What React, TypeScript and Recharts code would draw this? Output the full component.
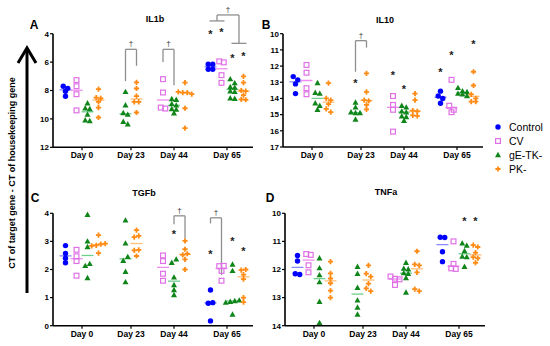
import React from 'react';
import { ScatterChart, Scatter, XAxis, YAxis, ReferenceLine, ReferenceDot } from 'recharts';

// ---------- data ----------
const DAYS = ['Day 0', 'Day 23', 'Day 44', 'Day 65'];
const SERIES = ['Control', 'CV', 'gE-TK-', 'PK-'];

// Panel A – IL1b (one list per day)
const il1bControl = [[7.7, 7.85, 8.05, 8.4], [], [], [6.15, 6.15, 6.5, 6.5]];
const il1bCV = [[7.27, 7.7, 8.26, 9.4], [], [7.2, 8.14, 9.2, 9.27], [5.95, 6.02, 6.92, 7.46]];
const il1bGE = [[8.9, 9.25, 9.3, 9.7, 10.1, 10.15], [8.1, 9.04, 9.58, 9.7, 10.2, 10.38], [8.6, 8.65, 8.95, 9.05, 9.3, 9.35, 9.6], [7.2, 7.48, 7.75, 7.8, 8.05, 8.1, 8.55, 8.58]];
const il1bPK = [[7.9, 8.5, 8.55, 8.8, 9.2, 9.9], [7.43, 7.86, 8.4, 8.8, 8.8, 9.55], [7.45, 8.1, 8.15, 8.15, 8.25, 9.25, 10.65], [7.0, 7.45, 8.0, 8.05, 8.32, 8.62, 8.65]];
const il1bTicks = [4, 6, 8, 10, 12];
const il1bBrackets = [
  { day: 1, left: [2, 2], right: [3, 3], top: 5.1, leftEnd: 7.34, rightEnd: 6.26 },
  { day: 2, left: [1, 1], right: [2, 2], top: 5.1, leftEnd: 6.0, rightEnd: 7.63 },
  { day: 3, left: [0, 1], right: [2, 3], top: 2.68, leftEnd: 3.1, rightEnd: 4.68 },
];
const il1bStars = [
  { day: 3, series: 0, value: 3.85 }, { day: 3, series: 1, value: 3.75 },
  { day: 3, series: 2, value: 5.6 }, { day: 3, series: 3, value: 5.45 },
];

// Panel B – IL10
const il10Control = [[12.65, 12.85, 13.1, 13.7], [], [], [13.55, 13.85, 14.0, 14.3]];
const il10CV = [[11.93, 12.41, 13.37, 13.74], [], [13.85, 14.4, 14.7, 16.05], [12.85, 14.45, 14.7, 14.85]];
const il10GE = [[13.05, 13.65, 13.7, 14.3, 14.45, 14.7], [14.25, 14.55, 14.85, 14.9, 14.9, 15.3], [14.45, 14.55, 14.8, 14.85, 15.1, 15.15, 15.38], [13.35, 13.55, 13.6, 13.7, 13.75, 13.85]];
const il10PK = [[13.05, 14.0, 14.1, 14.35, 14.65, 14.85], [12.45, 13.6, 14.1, 14.15, 14.4, 14.68], [13.7, 14.1, 14.75, 14.8, 15.04, 15.08], [12.35, 13.2, 13.75, 14.0, 14.2, 14.2]];
const il10Ticks = [10, 11, 12, 13, 14, 15, 16, 17];
const il10Brackets = [{ day: 1, left: [2, 2], right: [3, 3], top: 10.43, leftEnd: 12.35, rightEnd: 10.86 }];
const il10Stars = [
  { day: 1, series: 2, value: 12.92 }, { day: 2, series: 1, value: 12.41 }, { day: 2, series: 2, value: 13.31 },
  { day: 3, series: 0, value: 12.24 }, { day: 3, series: 1, value: 11.17 }, { day: 3, series: 3, value: 10.53 },
];

// Panel C – TGFb
const tgfControl = [[2.24, 2.4, 2.57, 2.85], [], [], [0.17, 0.8, 0.82, 1.27]];
const tgfCV = [[1.78, 2.3, 2.47, 2.7], [], [1.6, 1.85, 2.3, 2.5], [1.6, 1.95, 2.12, 2.13]];
const tgfGE = [[1.7, 2.13, 2.2, 2.8, 3.0, 3.95], [1.55, 1.92, 2.31, 2.45, 2.93, 3.75], [1.09, 1.27, 1.45, 1.72, 2.24, 2.36], [0.4, 0.82, 0.85, 0.88, 0.9, 1.95, 2.18]];
const tgfPK = [[2.58, 2.84, 2.86, 2.9, 2.92, 3.22], [2.48, 2.68, 2.7, 3.15, 3.2, 3.4], [2.0, 2.36, 2.52, 2.56, 2.72, 3.02], [0.84, 1.0, 1.66, 1.82, 1.98, 2.0]];
const tgfTicks = [0, 1, 2, 3, 4];
const tgfBrackets = [
  { day: 2, left: [2, 2], right: [3, 3], top: 3.91, leftEnd: 3.61, rightEnd: 3.11 },
  { day: 3, left: [0, 0], right: [1, 1], top: 3.84, leftEnd: 3.64, rightEnd: 1.8 },
];
const tgfStars = [
  { day: 2, series: 2, value: 3.35 }, { day: 3, series: 0, value: 2.63 },
  { day: 3, series: 2, value: 3.07 }, { day: 3, series: 3, value: 2.72 },
];

// Panel D – TNFa
const tnfControl = [[11.5, 11.7, 12.15, 12.18], [], [], [10.85, 10.86, 11.37, 11.72]];
const tnfCV = [[11.45, 11.48, 11.85, 12.1], [], [12.25, 12.33, 12.35, 12.55], [11.0, 11.8, 11.96, 11.98]];
const tnfGE = [[11.6, 11.95, 12.2, 12.45, 13.15, 13.9], [11.9, 12.15, 12.65, 13.1, 13.35, 13.6], [11.76, 11.97, 11.99, 12.13, 12.15, 12.3, 12.82], [11.07, 11.15, 11.34, 11.54, 11.56, 11.9]];
const tnfPK = [[11.72, 12.14, 12.32, 12.49, 12.75, 13.0], [11.85, 12.15, 12.25, 12.5, 12.67, 12.77], [11.35, 11.82, 11.85, 12.1, 12.7, 12.77], [11.13, 11.2, 11.4, 11.56, 11.6, 11.76]];
const tnfTicks = [10, 11, 12, 13, 14];
const tnfBrackets: any[] = [];
const tnfStars = [{ day: 3, series: 2, value: 10.2 }, { day: 3, series: 3, value: 10.2 }];

// ---------- style / layout ----------
const FONT = "'Liberation Sans', Arial, Helvetica, sans-serif";
const COLORS = ['#0000ff', '#e070e6', '#10851a', '#ff8a14'];
const MEDIAN_COLORS = ['#8a8aff', '#f08cf0', '#6fcf8f', '#ffbe7a'];
const TICK_POS = [29, 78, 121, 174];
const PLOT_W = 200;
const COL_GAP = 11;
const ROW_GAP = 4.5;
const ROW_THRESH = 4.2;
const W = 550;
const H = 346;
const Y_AXIS_W = 30;
const X_AXIS_H = 20;

function median(a: number[]) {
  const s = [...a].sort((p, q) => p - q);
  const m = Math.floor(s.length / 2);
  return s.length % 2 ? s[m] : (s[m - 1] + s[m]) / 2;
}

function presentSeries(values: number[][][], day: number) {
  return [0, 1, 2, 3].filter((s) => values[s][day].length > 0);
}

function colX(values: number[][][], day: number, s: number) {
  const pres = presentSeries(values, day);
  const k = pres.indexOf(s);
  return TICK_POS[day] + (k - (pres.length - 1) / 2) * COL_GAP;
}

function buildPanel(values: number[][][], ppu: number) {
  const points: { x: number; y: number }[][] = [[], [], [], []];
  const medians: { x: number; y: number }[][] = [[], [], [], []];
  for (let day = 0; day < DAYS.length; day++) {
    for (const s of presentSeries(values, day)) {
      const cx = colX(values, day, s);
      const sorted = [...values[s][day]].sort((p, q) => p - q);
      const rows: number[][] = [];
      for (const v of sorted) {
        const r = rows[rows.length - 1];
        if (!r || (v - r[0]) * ppu >= ROW_THRESH) rows.push([v]);
        else r.push(v);
      }
      for (const r of rows) {
        r.forEach((v, k) => points[s].push({ x: cx + (k - (r.length - 1) / 2) * ROW_GAP, y: v }));
      }
      medians[s].push({ x: cx, y: median(values[s][day]) });
    }
  }
  return { points, medians };
}

const shapes = [
  (p: any) => <circle cx={p.cx} cy={p.cy} r={2.7} fill={COLORS[0]} />,
  (p: any) => <rect x={p.cx - 2.4} y={p.cy - 2.4} width={4.8} height={4.8} fill="none" stroke={COLORS[1]} strokeWidth={1.2} />,
  (p: any) => <path d={`M${p.cx},${p.cy - 3.2}L${p.cx + 3},${p.cy + 2.2}L${p.cx - 3},${p.cy + 2.2}Z`} fill={COLORS[2]} />,
  (p: any) => (
    <path
      d={`M${p.cx - 0.9},${p.cy - 2.6}h1.8v1.7h1.7v1.8h-1.7v1.7h-1.8v-1.7h-1.7v-1.8h1.7z`}
      fill={COLORS[3]}
    />
  ),
];

const medianShape = (color: string) => (p: any) => (
  <line x1={p.cx - 6} x2={p.cx + 6} y1={p.cy} y2={p.cy} stroke={color} strokeWidth={1.3} />
);

const starShape = (p: any) => (
  <text x={p.cx} y={p.cy + 6} textAnchor="middle" fontSize={11} fontWeight="bold" fill="#222" fontFamily={FONT}>*</text>
);
const daggerShape = (p: any) => (
  <text x={p.cx} y={p.cy - 3} textAnchor="middle" fontSize={8} fill="#333" fontFamily={FONT}>†</text>
);

const BRACKET = '#8f8f8f';

function Panel(props: any) {
  const { values, domain, ticks, reversed, left, top, bottom, brackets, stars } = props;
  const ppu = (bottom - top) / (domain[1] - domain[0]);
  const { points, medians } = buildPanel(values, ppu);
  const margin = {
    left: left - Y_AXIS_W,
    top,
    right: W - left - PLOT_W,
    bottom: H - bottom - X_AXIS_H,
  };
  const refs: any[] = [];
  brackets.forEach((b: any, i: number) => {
    const l0 = colX(values, b.day, b.left[0]);
    const l1 = colX(values, b.day, b.left[1]);
    const r0 = colX(values, b.day, b.right[0]);
    const r1 = colX(values, b.day, b.right[1]);
    const lx = b.left[0] === b.left[1] ? l0 : (l0 - 1 + l1 + 3) / 2;
    const rx = b.right[0] === b.right[1] ? r0 : (r0 - 1 + r1 + 3) / 2;
    const seg = (k: string, a: any, c: any) => (
      <ReferenceLine key={`b${i}${k}`} segment={[a, c]} stroke={BRACKET} strokeWidth={1.3} ifOverflow="visible" />
    );
    refs.push(seg('t', { x: lx, y: b.top }, { x: rx, y: b.top }));
    refs.push(seg('l', { x: lx, y: b.top }, { x: lx, y: b.leftEnd }));
    refs.push(seg('r', { x: rx, y: b.top }, { x: rx, y: b.rightEnd }));
    if (b.left[0] !== b.left[1]) refs.push(seg('lb', { x: l0 - 1, y: b.leftEnd }, { x: l1 + 3, y: b.leftEnd }));
    if (b.right[0] !== b.right[1]) refs.push(seg('rb', { x: r0 - 1, y: b.rightEnd }, { x: r1 + 3, y: b.rightEnd }));
    refs.push(
      <ReferenceDot key={`d${i}`} x={(lx + rx) / 2} y={b.top} ifOverflow="visible" shape={daggerShape} />
    );
  });
  stars.forEach((s: any, i: number) => {
    refs.push(
      <ReferenceDot key={`s${i}`} x={colX(values, s.day, s.series)} y={s.value} ifOverflow="visible" shape={starShape} />
    );
  });
  const tickStyle = { fill: '#000', fontSize: 8, fontWeight: 'bold', fontFamily: FONT } as any;
  return (
    <div style={{ position: 'absolute', left: 0, top: 0, width: W, height: H }}>
      <ScatterChart width={W} height={H} margin={margin}>
        <XAxis
          type="number"
          dataKey="x"
          domain={[0, PLOT_W]}
          ticks={TICK_POS}
          interval={0}
          tickFormatter={(v: number) => DAYS[TICK_POS.indexOf(v)] ?? ''}
          height={X_AXIS_H}
          tickSize={3}
          tickMargin={2}
          axisLine={{ stroke: '#000', strokeWidth: 1.6 }}
          tickLine={{ stroke: '#000', strokeWidth: 1.2 }}
          tick={{ ...tickStyle, fontSize: 8.5 }}
          allowDataOverflow
        />
        <YAxis
          type="number"
          dataKey="y"
          domain={domain}
          ticks={ticks}
          interval={0}
          reversed={reversed}
          width={Y_AXIS_W}
          tickSize={3}
          tickMargin={1}
          axisLine={{ stroke: '#000', strokeWidth: 1.6 }}
          tickLine={{ stroke: '#000', strokeWidth: 1.2 }}
          tick={tickStyle}
        />
        {refs}
        {[0, 1, 2, 3].map((s) => (
          <Scatter
            key={`m${s}`}
            name={`${SERIES[s]} median`}
            data={medians[s]}
            shape={medianShape(MEDIAN_COLORS[s])}
            isAnimationActive={false}
          />
        ))}
        {[0, 1, 2, 3].map((s) => (
          <Scatter key={`p${s}`} name={SERIES[s]} data={points[s]} shape={shapes[s]} isAnimationActive={false} />
        ))}
      </ScatterChart>
    </div>
  );
}

const PANELS = [
  { id: 'A', title: 'IL1b', values: [il1bControl, il1bCV, il1bGE, il1bPK], domain: [4, 12], ticks: il1bTicks, reversed: true, left: 53, top: 33.7, bottom: 147.3, brackets: il1bBrackets, stars: il1bStars },
  { id: 'B', title: 'IL10', values: [il10Control, il10CV, il10GE, il10PK], domain: [10, 17], ticks: il10Ticks, reversed: true, left: 283, top: 33.7, bottom: 147, brackets: il10Brackets, stars: il10Stars },
  { id: 'C', title: 'TGFb', values: [tgfControl, tgfCV, tgfGE, tgfPK], domain: [0, 4], ticks: tgfTicks, reversed: false, left: 53, top: 213.3, bottom: 325.7, brackets: tgfBrackets, stars: tgfStars },
  { id: 'D', title: 'TNFa', values: [tnfControl, tnfCV, tnfGE, tnfPK], domain: [10, 14], ticks: tnfTicks, reversed: true, left: 285, top: 213.3, bottom: 325.7, brackets: tnfBrackets, stars: tnfStars },
];

const LETTERS = [
  { t: 'A', x: 34, y: 25 }, { t: 'B', x: 266, y: 25 },
  { t: 'C', x: 35, y: 198 }, { t: 'D', x: 270, y: 198 },
];
const TITLES = [
  { t: 'IL1b', x: 155, y: 19 }, { t: 'IL10', x: 385, y: 20 },
  { t: 'TGFb', x: 144, y: 193 }, { t: 'TNFa', x: 386, y: 192 },
];

function Overlay() {
  const legendY = [127, 141, 155, 169];
  const lx = 498;
  return (
    <svg width={W} height={H} style={{ position: 'absolute', left: 0, top: 0 }} fontFamily={FONT}>
      <text x={12} y={173} transform="rotate(-90 12 173)" textAnchor="middle" dominantBaseline="central" fontSize={9} fontWeight="bold" fill="#000">
        CT of target gene - CT of housekeeping gene
      </text>
      <line x1={27} y1={49} x2={27} y2={293} stroke="#000" strokeWidth={3} />
      <polyline points="18,63 27,48 36,63" fill="none" stroke="#000" strokeWidth={3} />
      {LETTERS.map((l) => (
        <text key={l.t} x={l.x} y={l.y} textAnchor="middle" dominantBaseline="central" fontSize={12} fontWeight="bold" fill="#000">{l.t}</text>
      ))}
      {TITLES.map((l) => (
        <text key={l.t} x={l.x} y={l.y} textAnchor="middle" dominantBaseline="central" fontSize={9} fontWeight="bold" fill="#000">{l.t}</text>
      ))}
      {SERIES.map((s, i) => (
        <g key={s}>
          {shapes[i]({ cx: lx, cy: legendY[i] })}
          <text x={509} y={legendY[i]} dominantBaseline="central" fontSize={10.5} fill="#000">{s}</text>
        </g>
      ))}
    </svg>
  );
}

export default function App() {
  return (
    <div style={{ position: 'absolute', left: 0, top: 0, width: W, height: H, background: '#fff', overflow: 'hidden' }}>
      <Overlay />
      {PANELS.map((p) => (
        <Panel key={p.id} {...p} />
      ))}
    </div>
  );
}
